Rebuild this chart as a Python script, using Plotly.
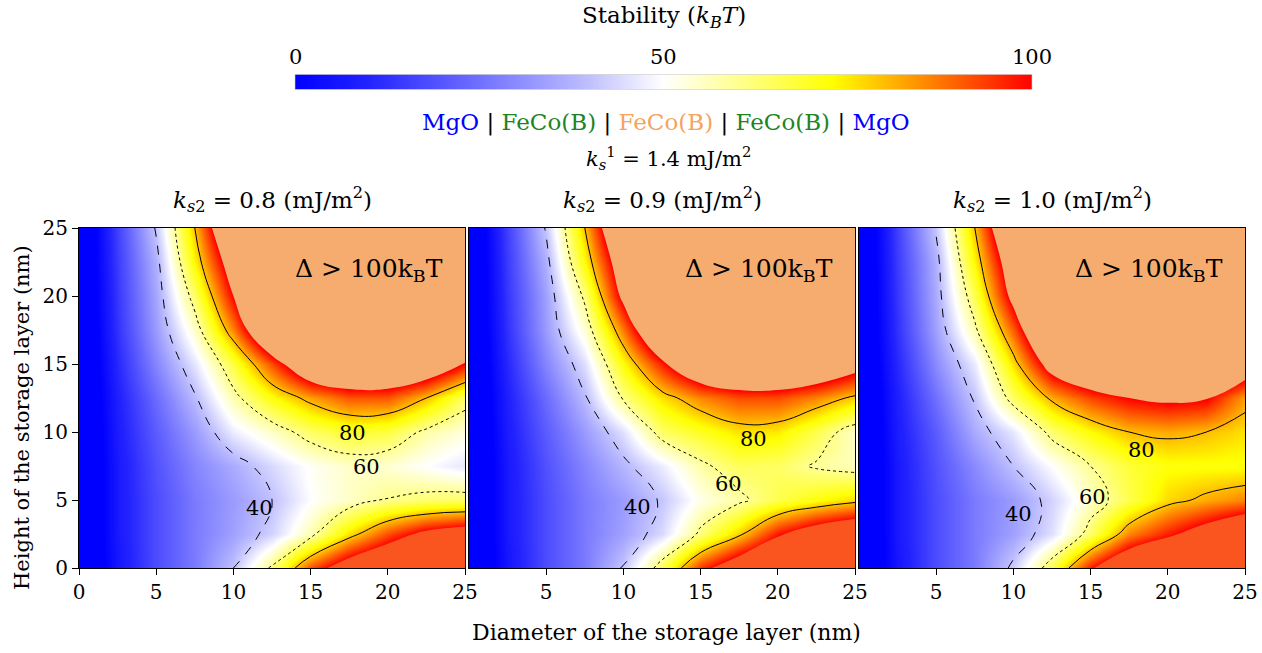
import plotly.graph_objects as go

# ---------------- data ----------------
DIAMETER_NM = [0, 2.5, 5, 7.5, 10, 12.5, 15, 17.5, 20, 22.5, 25]
HEIGHT_NM = [0, 2.5, 5, 7.5, 10, 12.5, 15, 17.5, 20, 22.5, 25]

# stability (kBT), rows = height, columns = diameter
STAB_KS2_08 = [
    [-12, 6, 18, 27, 40, 62, 92, 110, 120, 126, 130],
    [-12, 7, 18, 27, 34, 43, 57, 76, 92, 104, 110],
    [-12, 7, 18, 27, 33, 40, 50, 55, 60.5, 63, 64],
    [-12, 7, 19, 29, 36, 44, 51, 55, 54, 50, 46],
    [-12, 8, 21, 33, 47, 55, 64, 69, 67, 58, 53],
    [-12, 9, 24, 39, 57, 72, 83, 91, 91, 80, 64],
    [-12, 11, 29, 46, 67, 92, 118, 125, 124, 117, 99],
    [-12, 13, 33, 55, 86, 125, 145, 150, 150, 145, 125],
    [-12, 14, 35, 64, 100, 140, 155, 160, 160, 155, 145],
    [-12, 15, 37, 74, 110, 150, 165, 170, 170, 165, 155],
    [-12, 16, 41, 80, 125, 160, 175, 180, 180, 175, 165],
]
STAB_KS2_09 = [
    [-12, 6, 18, 27, 41, 65, 95, 112, 122, 128, 132],
    [-12, 7, 18, 27, 34, 44, 62, 78, 98, 110, 118],
    [-12, 7, 18, 27, 33, 41, 52, 58, 66, 72, 77],
    [-12, 7, 19, 29, 38, 47, 58, 65, 64, 59, 56],
    [-12, 8, 21, 33, 45, 64, 70, 76, 75, 66, 55],
    [-12, 9, 24, 39, 61, 76, 86, 92, 92, 86, 78],
    [-12, 11, 29, 45, 72, 97, 118, 126, 126, 120, 108],
    [-12, 13, 33, 54, 87, 125, 145, 150, 150, 145, 132],
    [-12, 14, 34, 62, 104, 140, 155, 160, 160, 155, 145],
    [-12, 15, 37, 73, 112, 150, 165, 170, 170, 165, 155],
    [-12, 16, 41, 80, 125, 160, 175, 180, 180, 175, 165],
]
STAB_KS2_10 = [
    [-12, 6, 18, 27, 42, 66, 98, 118, 128, 134, 138],
    [-12, 7, 18, 27, 34, 45, 64, 86, 97, 108, 120],
    [-12, 7, 18, 27, 33, 43, 55, 66, 77, 82, 86],
    [-12, 7, 19, 30, 40, 50, 60, 68, 72, 72, 72],
    [-12, 8, 21, 36, 46, 63, 73, 80, 82, 80, 76],
    [-12, 9, 25, 41, 64, 82, 93, 100, 103, 101, 83],
    [-12, 11, 30, 47, 76, 108, 122, 128, 128, 122, 115],
    [-12, 13, 34, 58, 90, 130, 145, 150, 150, 145, 135],
    [-12, 14, 36, 66, 105, 145, 155, 160, 160, 155, 145],
    [-12, 15, 37, 74, 112, 150, 165, 170, 170, 165, 155],
    [-12, 16, 41, 80, 125, 160, 175, 180, 180, 175, 165],
]
PANELS = [STAB_KS2_08, STAB_KS2_09, STAB_KS2_10]
KS2_VALUES = ["0.8", "0.9", "1.0"]
CONTOUR_LEVELS = [40, 60, 80]
CONTOUR_DASHES = ["dash", "dot", "solid"]
HATCH_LEVEL = 100
# contour label positions (diameter, height) per panel
LABELS = [
    [("40", 11.7, 4.4), ("60", 18.6, 7.4), ("80", 17.7, 9.9)],
    [("40", 10.9, 4.5), ("60", 16.8, 6.2), ("80", 18.4, 9.5)],
    [("40", 10.3, 4.0), ("60", 15.1, 5.2), ("80", 18.3, 8.7)],
]
X_TICKS = [[0, 5, 10, 15, 20, 25], [5, 10, 15, 20, 25], [5, 10, 15, 20, 25]]
Y_TICKS = [0, 5, 10, 15, 20, 25]
CBAR_TICKS = [0, 50, 100]

FONT = "DejaVu Serif"
COLORSCALE = [[0.0, "rgb(0,0,255)"], [0.1, "rgb(35,35,255)"],
              [0.25, "rgb(112,112,255)"], [0.4, "rgb(192,192,255)"],
              [0.5, "rgb(255,255,255)"], [0.73, "rgb(255,255,0)"],
              [1.0, "rgb(255,0,0)"]]
HATCH_TOP = "rgb(245,172,110)"
HATCH_BOTTOM = "rgb(250,85,30)"

W, H = 1262, 653
def px_x(p): return p / W
def px_y(p): return 1 - p / H

x_domains = [(79, 465), (469, 855), (859, 1245)]
y_domain = [px_y(568), px_y(228)]
CB_LEFT, CB_RIGHT = 295, 1032
NB = "&nbsp;"


def paper_text(x, y, text, size, **kw):
    fig.add_annotation(x=px_x(x), y=px_y(y), xref="paper", yref="paper", text=text,
                       xanchor="center", yanchor="middle", showarrow=False,
                       font=dict(family=FONT, size=size, color="black"), **kw)


fig = go.Figure()
split = HEIGHT_NM.index(7.5)
for i, z in enumerate(PANELS):
    xa = "x" if i == 0 else f"x{i+1}"
    ya = "y" if i == 0 else f"y{i+1}"
    fig.add_trace(go.Heatmap(
        x=DIAMETER_NM, y=HEIGHT_NM, z=z, zmin=0, zmax=100, zsmooth="best",
        colorscale=COLORSCALE, showscale=(i == 0), xaxis=xa, yaxis=ya,
        hoverinfo="skip",
        colorbar=dict(orientation="h", x=px_x((CB_LEFT + CB_RIGHT) / 2), xanchor="center",
                      y=px_y(90), yanchor="bottom", len=(CB_RIGHT - CB_LEFT) / W,
                      lenmode="fraction", thickness=15, thicknessmode="pixels",
                      showticklabels=False, ticks="", xpad=0, ypad=0,
                      outlinewidth=0.6, outlinecolor="#cccccc"),
    ))
    # hatched (> 100 kBT) regions, top and bottom
    for rows, col in [(slice(split, None), HATCH_TOP), (slice(0, split + 1), HATCH_BOTTOM)]:
        fig.add_trace(go.Contour(
            x=DIAMETER_NM, y=HEIGHT_NM[rows], z=z[rows], xaxis=xa, yaxis=ya,
            contours=dict(type="constraint", operation="<", value=HATCH_LEVEL),
            fillcolor=col, line=dict(width=0, smoothing=1.3), showscale=False,
            hoverinfo="skip",
        ))
    for lev, dash in zip(CONTOUR_LEVELS, CONTOUR_DASHES):
        fig.add_trace(go.Contour(
            x=DIAMETER_NM, y=HEIGHT_NM, z=z, xaxis=xa, yaxis=ya, autocontour=False,
            contours=dict(start=lev, end=lev, size=1, coloring="none"),
            line=dict(color="black", width=1, dash=dash, smoothing=1.3),
            showscale=False, hoverinfo="skip",
        ))
    for txt, lx, ly in LABELS[i]:
        fig.add_annotation(x=lx, y=ly, xref=xa, yref=ya, text=txt, showarrow=False,
                           xanchor="center", yanchor="middle",
                           font=dict(family=FONT, size=21, color="black"))
    fig.add_annotation(x=18.8, y=21.9, xref=xa, yref=ya,
                       text=f"Δ{NB}>{NB}100k<sub>B</sub>T", showarrow=False,
                       xanchor="center", yanchor="middle",
                       font=dict(family=FONT, size=25, color="black"))
    paper_text((x_domains[i][0] + x_domains[i][1]) / 2, 200,
               f"<i>k</i><sub><i>s</i>2</sub>{NB}={NB}{KS2_VALUES[i]} (mJ/m<sup>2</sup>)", 23)
    axis_common = dict(showline=True, linecolor="black", linewidth=1, mirror=True,
                       showgrid=False, zeroline=False, range=[0, 25])
    fig.update_layout(**{
        ("xaxis" if i == 0 else f"xaxis{i+1}"): dict(
            domain=[px_x(x_domains[i][0]), px_x(x_domains[i][1])], anchor=ya,
            tickvals=X_TICKS[i], ticks="outside", ticklen=6, tickcolor="black",
            tickfont=dict(family=FONT, size=20, color="black"), **axis_common),
        ("yaxis" if i == 0 else f"yaxis{i+1}"): dict(
            domain=y_domain, anchor=xa,
            tickvals=Y_TICKS if i == 0 else [], ticks="outside" if i == 0 else "",
            ticklen=6, tickcolor="black", showticklabels=(i == 0),
            tickfont=dict(family=FONT, size=20, color="black"), **axis_common),
    })

# colorbar texts
paper_text((CB_LEFT + CB_RIGHT) / 2, 17, f"Stability{NB}(<i>k<sub>B</sub>T</i>)", 23)
for val in CBAR_TICKS:
    paper_text(CB_LEFT + (CB_RIGHT - CB_LEFT) * val / 100, 57, str(val), 21)

stack = ("<span style='color:#0000ff'>MgO</span> | "
         "<span style='color:#1e841e'>FeCo(B)</span> | "
         "<span style='color:#f4a460'>FeCo(B)</span> | "
         "<span style='color:#1e841e'>FeCo(B)</span> | "
         "<span style='color:#0000ff'>MgO</span>")
paper_text(666, 122, stack, 23)
paper_text(668, 158, f"<i>k</i><sub><i>s</i></sub><sup>1</sup>{NB}={NB}1.4 mJ/m<sup>2</sup>", 21)
paper_text(666, 632, "Diameter of the storage layer (nm)", 22)
paper_text(22, 418, "Height of the storage layer (nm)", 21, textangle=-90)

fig.update_layout(width=W, height=H,
                  margin=dict(l=0, r=0, t=0, b=0, autoexpand=False),
                  paper_bgcolor="white", plot_bgcolor="white", showlegend=False)
fig.write_html("out.html", config={"displayModeBar": False},
               post_script="document.body.style.margin='0px';"
                           "document.body.style.overflow='hidden';")
